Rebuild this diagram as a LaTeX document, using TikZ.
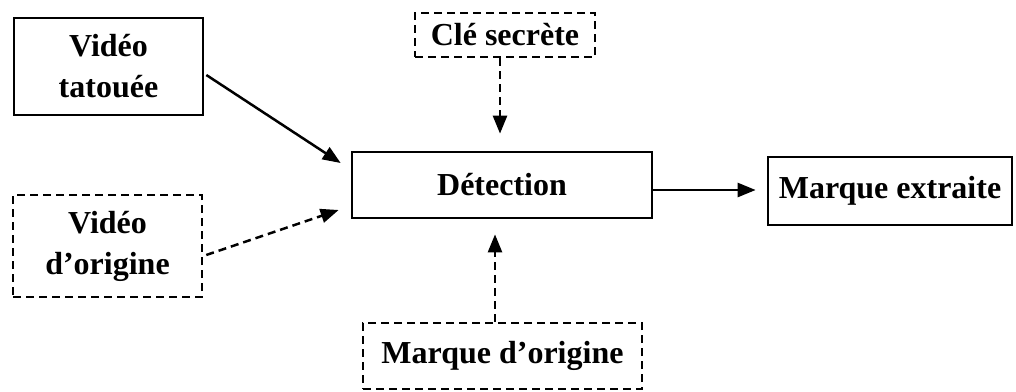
\documentclass[tikz,border=0pt]{standalone}
\usepackage{fontspec}
\setmainfont{Liberation Serif}
\usetikzlibrary{arrows.meta,calc}
\begin{document}
\begin{tikzpicture}[x=1pt,y=-1pt,
  box/.style={draw,line width=2.7pt,rectangle,align=center,inner sep=0pt,
    font=\fontsize{32}{41}\selectfont\bfseries},
  dbox/.style={box,line width=2.5pt,dash pattern=on 8pt off 5pt},
  link/.style={line width=2.5pt,-{Triangle[length=18pt,width=14pt]}},
  dlink/.style={link,dash pattern=on 8pt off 5pt}]
\useasboundingbox (0,0) rectangle (1016,391);

% blocks
\node[box,minimum width=189pt,minimum height=97pt] (vt) at (108.5,66.5) {Vidéo\\tatouée};
\node[dbox,minimum width=180pt,minimum height=44pt] (cle) at (505,35) {Clé secrète};
\node[box,minimum width=300pt,minimum height=66pt] (det) at (502,185) {Détection};
\node[dbox,minimum width=189pt,minimum height=102pt] (vo) at (107.5,246) {Vidéo\\d’origine};
\node[dbox,minimum width=279pt,minimum height=66pt] (mo) at (502.5,356) {Marque d’origine};
\node[box,minimum width=244pt,minimum height=68pt] (me) at (890,191) {Marque extraite};

% connectors
\draw[link] ($(vt.east)+(2,8.5)$) -- ($(det.west)+(-10,-22)$);
\draw[dlink] ($(vo.east)+(3,9)$) -- ($(det.west)+(-12,25)$);
\draw[dlink] ($(cle.south)+(-5,0)$) -- ($(det.north)+(-2,-17)$);
\draw[dlink] ($(mo.north)+(-7.5,0)$) -- ($(det.south)+(-7,15)$);
\draw[link] ($(det.east)+(0,5)$) -- ($(me.west)+(-11,-1)$);
\end{tikzpicture}
\end{document}
